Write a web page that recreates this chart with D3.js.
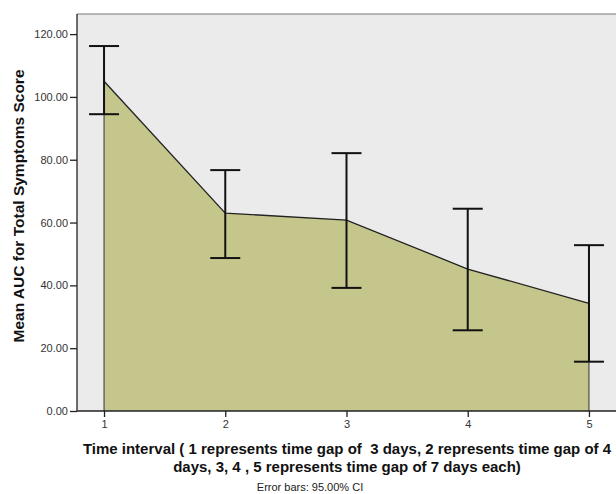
<!DOCTYPE html>
<html><head><meta charset="utf-8">
<script src="https://cdn.jsdelivr.net/npm/d3@7/dist/d3.min.js"></script>
<style>body{margin:0;background:#fff}svg{display:block}text{white-space:pre}</style>
</head><body>
<svg id="c" width="616" height="494"></svg>
<script>
const intervals = [1, 2, 3, 4, 5];
const means = [105.0, 63.0, 60.8, 45.2, 34.3];
const upperCI = [116.2, 76.7, 82.1, 64.4, 52.8];
const lowerCI = [94.5, 48.7, 39.2, 25.7, 15.7];
const yTicks = [0, 20, 40, 60, 80, 100, 120];

const svg = d3.select("#c");
const L = 77, T = 14, R = 616, B = 411;
const x = d3.scaleLinear().domain([0.777, 5.223]).range([L, R]);
const y = d3.scaleLinear().domain([0, 126.4]).range([B, T]);
const data = intervals.map((d, i) => ({x: d, m: means[i], u: upperCI[i], l: lowerCI[i]}));

svg.append("rect").attr("x", L).attr("y", T).attr("width", R - L).attr("height", B - T).attr("fill", "#ebebeb");
svg.append("line").attr("x1", L).attr("x2", R).attr("y1", T).attr("y2", T).attr("stroke", "#777").attr("stroke-width", 1);

const area = d3.area().x(d => x(d.x)).y0(y(0)).y1(d => y(d.m));
svg.append("path").datum(data).attr("d", area).attr("fill", "#c5c68b").attr("stroke", "none");
svg.append("path").datum(data).attr("d", d3.line().x(d => x(d.x)).y(d => y(d.m))).attr("fill", "none").attr("stroke", "#222").attr("stroke-width", 1.3);
[data[0], data[4]].forEach(d => {
  svg.append("line").attr("x1", x(d.x)).attr("x2", x(d.x)).attr("y1", y(d.m)).attr("y2", y(0)).attr("stroke", "#333").attr("stroke-width", 1);
});

const eb = svg.append("g").attr("stroke", "#111").attr("stroke-width", 2);
data.forEach(d => {
  eb.append("line").attr("x1", x(d.x)).attr("x2", x(d.x)).attr("y1", y(d.u)).attr("y2", y(d.l));
  eb.append("line").attr("x1", x(d.x) - 15).attr("x2", x(d.x) + 15).attr("y1", y(d.u)).attr("y2", y(d.u));
  eb.append("line").attr("x1", x(d.x) - 15).attr("x2", x(d.x) + 15).attr("y1", y(d.l)).attr("y2", y(d.l));
});

const ya = svg.append("g").attr("transform", `translate(${L},0)`)
  .call(d3.axisLeft(y).tickValues(yTicks).tickFormat(d3.format(".2f")).tickSize(7).tickSizeOuter(0));
const xa = svg.append("g").attr("transform", `translate(0,${B})`)
  .call(d3.axisBottom(x).tickValues(intervals).tickFormat(d3.format("d")).tickSize(6).tickSizeOuter(0));
[ya, xa].forEach(a => {
  a.select(".domain").attr("stroke", "#222").attr("stroke-width", 1.3);
  a.selectAll(".tick line").attr("stroke", "#222").attr("stroke-width", 1.3);
  a.selectAll("text").attr("font-family", "Liberation Sans, Arial, sans-serif").attr("font-size", 11).attr("fill", "#333");
});
ya.selectAll("text").attr("x", -9);
xa.selectAll("text").attr("y", 9);
ya.select(".domain").attr("d", `M0,${T}V${B}`);
xa.select(".domain").attr("d", `M${L},0H${R}`);

const ff = "Liberation Sans, Arial, sans-serif";
svg.append("text").attr("transform", `translate(24,206) rotate(-90)`).attr("text-anchor", "middle")
  .attr("font-family", ff).attr("font-weight", "bold").attr("font-size", 15.5).attr("fill", "#111")
  .text("Mean AUC for Total Symptoms Score");
const xt = svg.append("text").attr("text-anchor", "middle").attr("font-family", ff).attr("font-weight", "bold")
  .attr("font-size", 15).attr("fill", "#111");
xt.append("tspan").attr("x", 347).attr("y", 454).text("Time interval ( 1 represents time gap of  3 days, 2 represents time gap of 4");
xt.append("tspan").attr("x", 347).attr("y", 472).text("days, 3, 4 , 5 represents time gap of 7 days each)");
svg.append("text").attr("x", 310).attr("y", 491).attr("text-anchor", "middle").attr("font-family", ff)
  .attr("font-size", 11).attr("fill", "#222").text("Error bars: 95.00% CI");
</script>
</body></html>
